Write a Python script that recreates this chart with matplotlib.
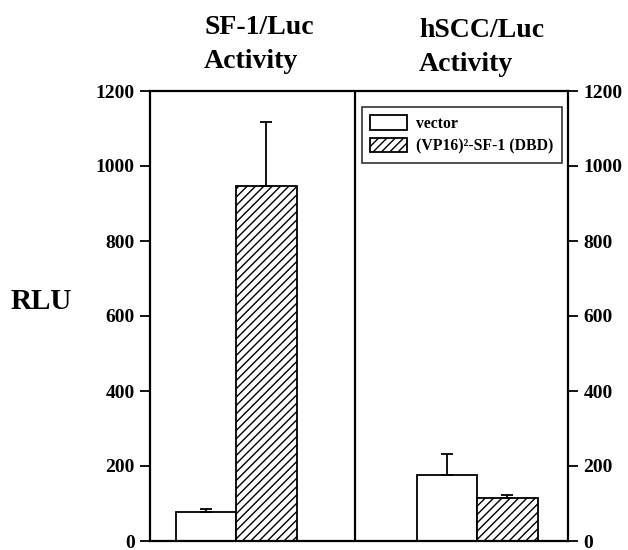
import matplotlib
matplotlib.use("Agg")
import matplotlib.pyplot as plt
import numpy as np

plt.rcParams['font.family'] = ['Liberation Serif', 'DejaVu Serif']
plt.rcParams['font.weight'] = 'bold'
plt.rcParams['hatch.linewidth'] = 1.0

panels = ["SF-1/Luc\nActivity", "hSCC/Luc\nActivity"]
series = ["vector", "(VP16)²-SF-1 (DBD)"]
vector_vals = [77, 176]
vector_err = [8, 56]
vp16_vals = [947, 115]
vp16_err = [170, 8]
yticks = [0, 200, 400, 600, 800, 1000, 1200]

fig = plt.figure(figsize=(6.28, 5.5), dpi=100)
ax = fig.add_axes([150/628, 9/550, 418/628, 450/550])

group_centers = np.array([0.86, 3.27])
w = 0.605
ax.bar(group_centers - w/2, vector_vals, width=w, color='white', edgecolor='black',
       linewidth=1.3, label=series[0], zorder=2)
ax.bar(group_centers + w/2, vp16_vals, width=w, color='white', edgecolor='black',
       linewidth=1.3, hatch='////', label=series[1], zorder=2)
ax.errorbar(group_centers - w/2, vector_vals, yerr=[[0, 0], vector_err], fmt='none',
            ecolor='black', elinewidth=1.3, capsize=4, capthick=1.3, zorder=3)
ax.errorbar(group_centers + w/2, vp16_vals, yerr=[[0, 0], vp16_err], fmt='none',
            ecolor='black', elinewidth=1.3, capsize=4, capthick=1.3, zorder=3)

ax.set_xlim(0, 4.18)
ax.set_ylim(0, 1200)
ax.axvline(2.05, color='black', linewidth=1.6, zorder=4)

for s in ax.spines.values():
    s.set_linewidth(1.6)
ax.set_xticks([])
ax.set_yticks(yticks)
ax.tick_params(axis='y', direction='out', length=7, width=1.3, labelsize=14,
               left=True, right=True, labelleft=True, labelright=True, pad=4)
for lab in ax.get_yticklabels():
    lab.set_fontweight('bold')

ax.set_ylabel("RLU", fontsize=21, fontweight='bold', rotation=0, labelpad=0)
ax.yaxis.set_label_coords(-0.187, 0.533)
ax.yaxis.label.set_horizontalalignment('right')
ax.yaxis.label.set_verticalalignment('center')

fig.text(204/628, 1 - 15/550, panels[0], ha='left', va='top', fontsize=20,
         fontweight='bold', linespacing=1.5)
fig.text(419/628, 1 - 18/550, panels[1], ha='left', va='top', fontsize=20,
         fontweight='bold', linespacing=1.45)

leg = ax.legend(loc='upper right', bbox_to_anchor=(0.9856, 0.965),
                frameon=True, fancybox=False, edgecolor='black', handlelength=2.35,
                handleheight=1.05, handletextpad=0.55, borderpad=0.55, labelspacing=0.35,
                borderaxespad=0.0,
                prop={'weight': 'bold', 'size': 11.3})
leg.get_frame().set_linewidth(1.2)

fig.savefig("out.png", dpi=100)
